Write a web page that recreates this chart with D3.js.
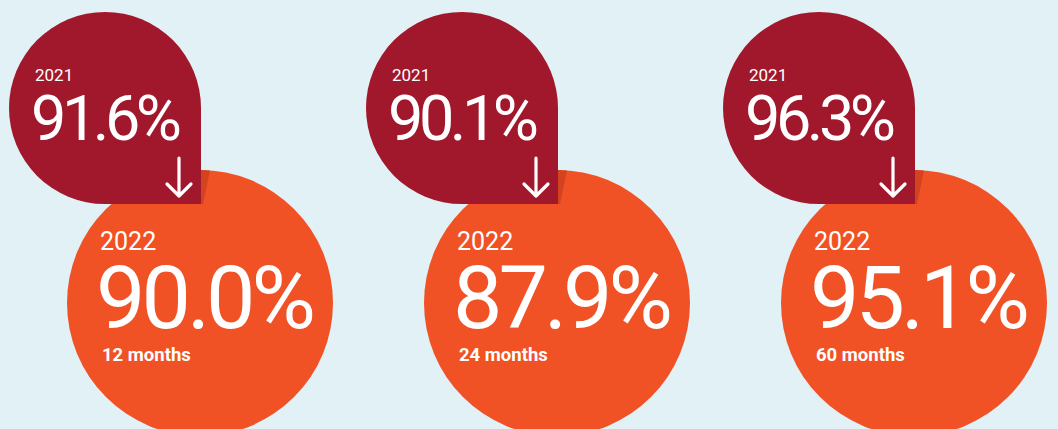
<!DOCTYPE html>
<html>
<head>
<meta charset="utf-8">
<script src="https://cdn.jsdelivr.net/npm/d3@7"></script>
<style>
  html, body { margin: 0; padding: 0; background: #e2f1f6; }
  #chart { width: 1058px; height: 429px; overflow: hidden; }
  text { font-family: Roboto, "Open Sans", sans-serif; fill: #fff; }
</style>
</head>
<body>
<div id="chart"></div>
<script>
const periods  = ["12 months", "24 months", "60 months"];
const prevYear = "2021";
const currYear = "2022";
const prevVals = [91.6, 90.1, 96.3];
const currVals = [90.0, 87.9, 95.1];

const W = 1058, H = 429;
const C_BG = "#e2f1f6", C_PREV = "#a1182d", C_CURR = "#f15225", C_SHADE = "#d4431f";

const svg = d3.select("#chart").append("svg")
  .attr("width", W).attr("height", H).attr("viewBox", `0 0 ${W} ${H}`);

svg.append("rect").attr("width", W).attr("height", H).attr("fill", C_BG);

// one column per period, centred on the big circle
const xS = d3.scalePoint().domain(periods).range([200, 914]);
const rBig = 133, cyBig = 303;
const rSmall = 96, cySmall = 108, dxSmall = -95;

const fmt = d3.format(".1f");

// teardrop: circle with the bottom-right quadrant squared off
function drop(cx, cy, r) {
  return `M${cx - r},${cy} A${r},${r} 0 0 1 ${cx},${cy - r} A${r},${r} 0 0 1 ${cx + r},${cy}`
    + ` L${cx + r},${cy + r} L${cx},${cy + r} A${r},${r} 0 0 1 ${cx - r},${cy} Z`;
}

const g = svg.selectAll("g.col").data(periods).join("g").attr("class", "col");

g.each(function(p, i) {
  const el = d3.select(this);
  const cx = xS(p);
  const sx = cx + dxSmall;

  // 2022 circle
  el.append("circle").attr("cx", cx).attr("cy", cyBig).attr("r", rBig).attr("fill", C_CURR);

  // shadow wedge under the corner of the drop
  const ex = sx + rSmall, top = cyBig - Math.sqrt(rBig * rBig - (ex - cx) * (ex - cx));
  const ex2 = ex + 9, top2 = cyBig - Math.sqrt(rBig * rBig - (ex2 - cx) * (ex2 - cx));
  el.append("path")
    .attr("d", `M${ex},${top} L${ex2},${top2} L${ex + 2},${cySmall + rSmall} L${ex},${cySmall + rSmall} Z`)
    .attr("fill", C_SHADE);

  // 2021 drop
  el.append("path").attr("d", drop(sx, cySmall, rSmall)).attr("fill", C_PREV);

  el.append("text").attr("x", sx - 70).attr("y", 81)
    .attr("font-size", 17).text(prevYear);
  el.append("text").attr("x", sx - 74).attr("y", 140)
    .attr("font-size", 63).attr("letter-spacing", -4.5)
    .text(fmt(prevVals[i]) + "%");

  // arrow
  const ax = sx + 74;
  el.append("path")
    .attr("d", `M${ax},158 L${ax},196 M${ax - 12},184 L${ax},196 L${ax + 12},184`)
    .attr("fill", "none").attr("stroke", "#fff").attr("stroke-width", 3.2)
    .attr("stroke-linecap", "round").attr("stroke-linejoin", "round");

  el.append("text").attr("x", cx - 100).attr("y", 250)
    .attr("font-size", 25).text(currYear);
  el.append("text").attr("x", cx - 104).attr("y", 328)
    .attr("font-size", 88).attr("letter-spacing", -4)
    .text(fmt(currVals[i]) + "%");
  el.append("text").attr("x", cx - 98).attr("y", 361)
    .attr("font-size", 18.5).attr("font-weight", 700).text(p);
});
</script>
</body>
</html>
